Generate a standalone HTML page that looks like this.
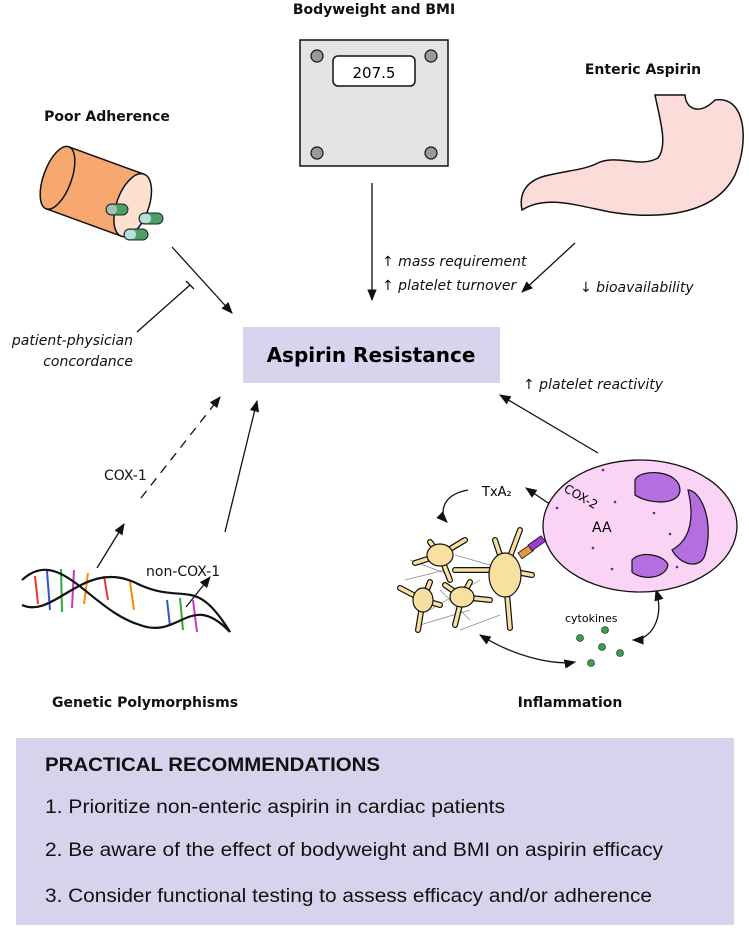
<!DOCTYPE html>
<html><head><meta charset="utf-8"><style>body{margin:0;background:#fff}svg{display:block}</style></head><body>
<svg width="749" height="928" viewBox="0 0 749 928" xmlns="http://www.w3.org/2000/svg" font-family="'DejaVu Sans','Liberation Sans',sans-serif">
<defs><marker id="a" viewBox="0 0 10 10" refX="9" refY="5" markerWidth="9" markerHeight="9" orient="auto-start-reverse"><path d="M0,1 L10,5 L0,9 z" fill="#111"/></marker></defs>
<g font-weight="bold" font-size="14" fill="#111" text-anchor="middle">
<text x="374" y="14">Bodyweight and BMI</text>
<text x="107" y="121">Poor Adherence</text>
<text x="643" y="74">Enteric Aspirin</text>
<text x="145" y="707">Genetic Polymorphisms</text>
<text x="570" y="707">Inflammation</text>
</g>
<rect x="300" y="40" width="148" height="126" fill="#e4e4e4" stroke="#111" stroke-width="1.5"/>
<rect x="333" y="56" width="82" height="30" rx="5" fill="#fff" stroke="#111" stroke-width="1.5"/>
<text x="374" y="78" font-size="15" text-anchor="middle">207.5</text>
<g fill="#999" stroke="#111" stroke-width="1.2"><circle cx="317" cy="56" r="6"/><circle cx="431" cy="56" r="6"/><circle cx="317" cy="153" r="6"/><circle cx="431" cy="153" r="6"/></g>
<g transform="translate(50,140) rotate(20)">
<rect x="20" y="0" width="80" height="66" fill="#f7a870" stroke="#111" stroke-width="1.5"/>
<ellipse cx="20" cy="33" rx="14" ry="33" fill="#f7a870" stroke="#111" stroke-width="1.5"/>
<ellipse cx="100" cy="33" rx="16" ry="33" fill="#fde0cf" stroke="#111" stroke-width="1.5"/>
</g>
<g stroke="#222" stroke-width="1"><rect x="106" y="204" width="22" height="11" rx="5.5" fill="#4aa065"/><rect x="139" y="213" width="24" height="11" rx="5.5" fill="#4aa065"/><rect x="124" y="229" width="24" height="11" rx="5.5" fill="#4aa065"/></g>
<g fill="#b6e0e0"><rect x="107" y="205" width="10" height="9" rx="4" fill="#a9c2b6"/><rect x="140" y="214" width="11" height="9" rx="4"/><rect x="125" y="230" width="11" height="9" rx="4"/></g>
<path d="M655,95 L685,95 C686,110 700,115 715,100 C745,95 750,140 735,175 C715,215 660,220 610,212 C575,205 545,195 522,210 C518,190 530,180 545,176 C570,170 585,170 600,162 C620,155 640,168 658,158 C668,145 660,120 655,95 Z" fill="#fbdcd8" stroke="#111" stroke-width="1.5"/>
<rect x="243" y="327" width="257" height="56" fill="#d9d4ee"/>
<text x="371" y="362" font-size="20" font-weight="bold" text-anchor="middle">Aspirin Resistance</text>
<rect x="16" y="738" width="718" height="187" fill="#d8d3ec"/>
<g font-family="'Liberation Sans',sans-serif" fill="#111">
<text x="45" y="771" font-size="19" font-weight="bold" textLength="335" lengthAdjust="spacingAndGlyphs">PRACTICAL RECOMMENDATIONS</text>
<text x="45" y="813" font-size="19" textLength="460" lengthAdjust="spacingAndGlyphs">1. Prioritize non-enteric aspirin in cardiac patients</text>
<text x="45" y="856" font-size="19" textLength="618" lengthAdjust="spacingAndGlyphs">2. Be aware of the effect of bodyweight and BMI on aspirin efficacy</text>
<text x="45" y="902" font-size="19" textLength="607" lengthAdjust="spacingAndGlyphs">3. Consider functional testing to assess efficacy and/or adherence</text>
</g>
<g stroke="#111" stroke-width="1.3" fill="none">
<line x1="372" y1="183" x2="372" y2="300" marker-end="url(#a)"/>
<line x1="172" y1="247" x2="232" y2="313" marker-end="url(#a)"/>
<line x1="137" y1="332" x2="190" y2="285"/><line x1="186" y1="281" x2="194" y2="289"/>
<line x1="575" y1="243" x2="522" y2="292" marker-end="url(#a)"/>
<line x1="598" y1="453" x2="500" y2="395" marker-end="url(#a)"/>
<line x1="141" y1="498" x2="220" y2="397" stroke-dasharray="9,7" marker-end="url(#a)"/>
<line x1="225" y1="532" x2="257" y2="401" marker-end="url(#a)"/>
<line x1="97" y1="568" x2="124" y2="524" marker-end="url(#a)"/>
<line x1="186" y1="607" x2="210" y2="577" marker-end="url(#a)"/>
<line x1="585" y1="528" x2="526" y2="488" marker-end="url(#a)"/>
<path d="M468,490 C440,495 440,515 447,522" marker-end="url(#a)"/>
<path d="M480,635 C520,660 560,665 575,662" marker-start="url(#a)" marker-end="url(#a)"/>
<path d="M656,590 C665,620 650,640 633,640" marker-start="url(#a)" marker-end="url(#a)"/>
</g>
<g font-style="italic" font-size="14" fill="#111">
<text x="382" y="266">↑ mass requirement</text>
<text x="382" y="290">↑ platelet turnover</text>
<text x="580" y="292">↓ bioavailability</text>
<text x="133" y="345" text-anchor="end">patient-physician</text>
<text x="133" y="366" text-anchor="end">concordance</text>
<text x="523" y="389">↑ platelet reactivity</text>
</g>
<g font-size="14" fill="#111"><text x="104" y="480">COX-1</text><text x="146" y="576">non-COX-1</text></g>
<g stroke="#888" stroke-width=".7">
<line x1="410" y1="560" x2="450" y2="575"/><line x1="405" y1="580" x2="445" y2="570"/><line x1="430" y1="610" x2="480" y2="580"/><line x1="420" y1="625" x2="470" y2="610"/><line x1="460" y1="630" x2="500" y2="615"/><line x1="440" y1="590" x2="470" y2="620"/><line x1="455" y1="555" x2="490" y2="565"/>
</g>
<ellipse cx="640" cy="526" rx="97" ry="66" fill="#fbd3f4" stroke="#111" stroke-width="1.3"/>
<path d="M635,480 C640,468 680,470 680,490 C680,505 650,505 635,495Z M688,490 C700,490 715,520 705,555 C700,570 680,565 672,550 C690,540 695,520 688,490Z M632,560 C640,550 665,555 668,565 C665,580 640,580 632,572Z" fill="#b56ee0" stroke="#111" stroke-width="1.2"/>
<g fill="#5a2a9a"><circle cx="557" cy="508" r="1.3"/><circle cx="593" cy="548" r="1.3"/><circle cx="615" cy="502" r="1.3"/><circle cx="654" cy="513" r="1.3"/><circle cx="670" cy="534" r="1.3"/><circle cx="612" cy="569" r="1.3"/><circle cx="677" cy="567" r="1.3"/><circle cx="603" cy="470" r="1.3"/></g>
<text x="592" y="532" font-size="14">AA</text>
<text x="563" y="491" font-size="12" transform="rotate(30 563 491)">COX-2</text>
<text x="482" y="496" font-size="13">TxA₂</text>
<text x="565" y="622" font-size="11">cytokines</text>
<g fill="#3aa04a" stroke="#111" stroke-width=".6"><circle cx="605" cy="630" r="3.5"/><circle cx="580" cy="638" r="3.5"/><circle cx="602" cy="647" r="3.5"/><circle cx="620" cy="653" r="3.5"/><circle cx="591" cy="663" r="3.5"/></g>
<g fill="none" stroke-linecap="round">
<g stroke="#111" stroke-width="6">
<path d="M440,555 L415,563 M440,555 L430,542 M440,555 L465,540 M440,555 L450,580"/>
<path d="M423,600 L400,588 M423,600 L418,630 M423,600 L440,605 M423,600 L430,582"/>
<path d="M462,597 L445,585 M462,597 L490,600 M462,597 L455,625 M462,597 L470,582"/>
<path d="M505,570 L520,530 M505,570 L455,570 M505,570 L510,628 M505,570 L532,575 M505,570 L495,540"/>
</g>
<g stroke="#f8e1a0" stroke-width="3.6">
<path d="M440,555 L415,563 M440,555 L430,542 M440,555 L465,540 M440,555 L450,580"/>
<path d="M423,600 L400,588 M423,600 L418,630 M423,600 L440,605 M423,600 L430,582"/>
<path d="M462,597 L445,585 M462,597 L490,600 M462,597 L455,625 M462,597 L470,582"/>
<path d="M505,570 L520,530 M505,570 L455,570 M505,570 L510,628 M505,570 L532,575 M505,570 L495,540"/>
</g>
</g>
<g fill="#f8e1a0" stroke="#111" stroke-width="1.2">
<ellipse cx="440" cy="555" rx="13" ry="11"/><ellipse cx="423" cy="600" rx="10" ry="12"/><ellipse cx="462" cy="597" rx="12" ry="10"/><ellipse cx="505" cy="575" rx="16" ry="22"/>
</g>
<rect x="518" y="553" width="14" height="7" fill="#e09a40" stroke="#111" stroke-width=".8" transform="rotate(-35 518 553)"/>
<rect x="528" y="545" width="16" height="7" fill="#9a3ed0" stroke="#111" stroke-width=".8" transform="rotate(-35 528 545)"/>
<g stroke-width="2">
<g stroke="#e33"><line x1="35" y1="576" x2="38" y2="604"/><line x1="108" y1="600" x2="104" y2="576"/></g>
<g stroke="#35c"><line x1="47" y1="571" x2="50" y2="610"/><line x1="170" y1="626" x2="167" y2="600"/></g>
<g stroke="#3a3"><line x1="61" y1="569" x2="62" y2="612"/><line x1="183" y1="630" x2="180" y2="598"/></g>
<g stroke="#c3c"><line x1="74" y1="570" x2="72" y2="608"/><line x1="197" y1="632" x2="193" y2="600"/></g>
<g stroke="#f80"><line x1="88" y1="573" x2="84" y2="604"/><line x1="134" y1="610" x2="130" y2="582"/></g>
</g>
<g fill="none" stroke="#111" stroke-width="2.2">
<path d="M22,580 C60,545 90,610 140,625 C180,640 190,590 230,632"/>
<path d="M22,605 C55,620 85,555 140,585 C185,605 195,575 230,632"/>
</g>
</svg>
</body></html>
